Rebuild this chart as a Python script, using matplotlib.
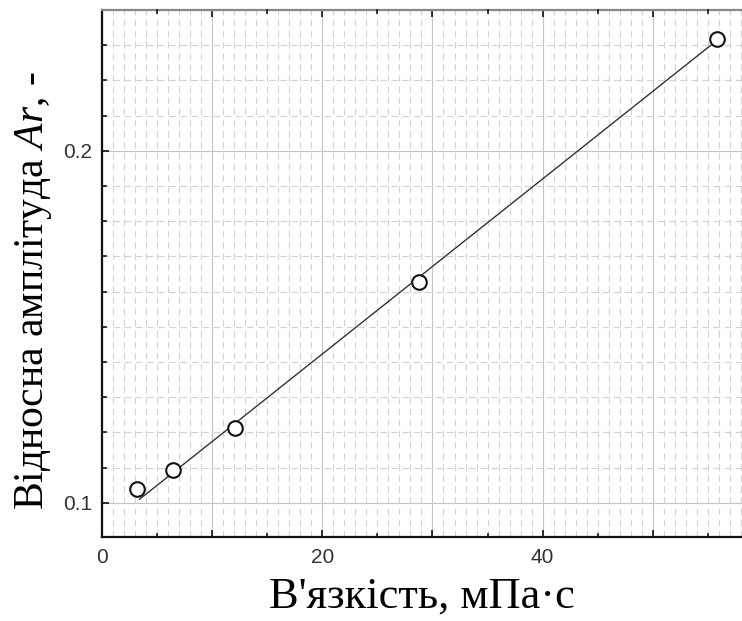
import matplotlib.pyplot as plt
from matplotlib.ticker import MultipleLocator, FixedFormatter, FixedLocator

plt.rcParams["mathtext.fontset"] = "custom"
plt.rcParams["mathtext.it"] = "Liberation Serif:italic"
plt.rcParams["mathtext.rm"] = "Liberation Serif"

# measured points
viscosity = [3.2, 6.4, 12.1, 28.8, 55.8]
amplitude = [0.1038, 0.1093, 0.1212, 0.1626, 0.2317]

# fitted line end points
fit_x = [3.4, 55.4]
fit_y = [0.1010, 0.2303]

x_major = [0, 10, 20, 30, 40, 50]
x_labels = ["0", "", "20", "", "40", ""]
x_small_ticks = [5, 15, 25, 35, 45, 55]
y_small_ticks = [0.11, 0.12, 0.13, 0.14, 0.15, 0.16, 0.17, 0.18, 0.19, 0.21, 0.22, 0.23]

y_lo, y_hi = 0.0903, 0.24

fig = plt.figure(figsize=(7.42, 6.21), dpi=100)
ax = fig.add_axes([0.1375, 0.1353, 0.8625, 0.8487])

ax.plot(fit_x, fit_y, color="#333333", lw=1.0, zorder=3)
ax.plot(viscosity, amplitude, "o", mfc="white", mec="#111111", ms=10.5, mew=1.5, zorder=4)

ax.set_xlim(0, 58.1)
ax.set_ylim(y_lo, y_hi)

ax.xaxis.set_major_locator(FixedLocator(x_major))
ax.xaxis.set_major_formatter(FixedFormatter(x_labels))
ax.xaxis.set_minor_locator(MultipleLocator(1))
ax.yaxis.set_major_locator(MultipleLocator(0.1))
ax.yaxis.set_minor_locator(MultipleLocator(0.01))

ax.grid(which="major", color="#c4c4c4", lw=0.8, ls="-")
ax.grid(which="minor", color="#d2d2d2", lw=0.8, ls=(0, (6, 4)))
ax.set_axisbelow(True)

ax.tick_params(which="both", direction="in", top=True, right=False, colors="#111111",
               labelcolor="#333333")
ax.tick_params(which="major", length=5, width=1.2)
ax.tick_params(axis="x", which="major", pad=8)
ax.tick_params(axis="y", which="major", pad=7)
ax.tick_params(which="minor", length=0)
for lab in ax.get_xticklabels() + ax.get_yticklabels():
    lab.set_fontsize(15)
    lab.set_family("Liberation Sans")

# short ticks between the labelled ones
for xv in x_small_ticks:
    ax.plot([xv, xv], [y_lo, y_lo + 0.0009], color="#111111", lw=1.2, clip_on=False, zorder=5)
    ax.plot([xv, xv], [y_hi, y_hi - 0.0009], color="#111111", lw=1.2, clip_on=False, zorder=5)
for yv in y_small_ticks:
    ax.plot([0, 0.4], [yv, yv], color="#111111", lw=1.2, clip_on=False, zorder=5)

for side in ["left", "bottom"]:
    ax.spines[side].set_color("#111111")
    ax.spines[side].set_linewidth(1.6)
ax.spines["top"].set_color("#888888")
ax.spines["top"].set_linewidth(1.6)
ax.spines["right"].set_visible(False)

ax.set_xlabel("В'язкість, мПа·с", fontsize=32, family="Liberation Serif", labelpad=7)
ax.set_ylabel("Відносна амплітуда $\\mathit{Ar}$, -", fontsize=30,
              family="Liberation Serif")
ax.yaxis.set_label_coords(-0.075, 0.467)

fig.savefig("out.png", dpi=100)
